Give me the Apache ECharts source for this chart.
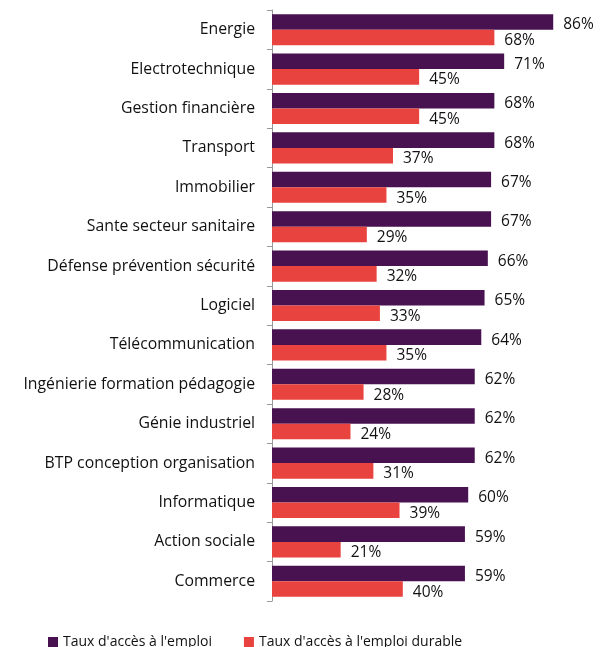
<!DOCTYPE html>
<html>
<head>
<meta charset="utf-8">
<script src="https://cdn.jsdelivr.net/npm/echarts@6/dist/echarts.min.js"></script>
<style>
  html, body { margin: 0; padding: 0; background: #fff; }
  #chart { width: 613px; height: 647px; }
</style>
</head>
<body>
<div id="chart"></div>
<script>
// secteurs
const categories = [
  'Energie', 'Electrotechnique', 'Gestion financière', 'Transport', 'Immobilier',
  'Sante secteur sanitaire', 'Défense prévention sécurité', 'Logiciel', 'Télécommunication',
  'Ingénierie formation pédagogie', 'Génie industriel', 'BTP conception organisation',
  'Informatique', 'Action sociale', 'Commerce'
]
// taux d'accès à l'emploi
const accesEmploi = [86, 71, 68, 68, 67, 67, 66, 65, 64, 62, 62, 62, 60, 59, 59]
// taux d'accès à l'emploi durable
const accesDurable = [68, 45, 45, 37, 35, 29, 32, 33, 35, 28, 24, 31, 39, 21, 40]

const seriesNames = ["Taux d'accès à l'emploi", "Taux d'accès à l'emploi durable"]
const font = 'Open Sans'

const chart = echarts.init(document.getElementById('chart'))
const labelStyle = {
  show: true,
  position: 'right',
  distance: 10,
  offset: [0, 3],
  formatter: '{c}%',
  color: '#111',
  fontSize: 15.5,
  fontFamily: font
}

chart.setOption({
  animation: false,
  grid: { left: 272, right: 14, top: 10, bottom: 46 },
  legend: {
    data: seriesNames,
    bottom: -7,
    left: 43,
    itemWidth: 10,
    itemHeight: 10,
    itemGap: 32,
    icon: 'rect',
    textStyle: { fontSize: 14, fontFamily: font, color: '#111' }
  },
  xAxis: {
    type: 'value',
    min: 0,
    max: 100,
    show: false
  },
  yAxis: {
    type: 'category',
    data: categories,
    inverse: true,
    axisLine: { show: true, lineStyle: { color: '#999' } },
    axisTick: { show: true, length: 5, lineStyle: { color: '#999' } },
    axisLabel: { margin: 17, fontSize: 15.8, fontFamily: font, color: '#111' }
  },
  series: [
    {
      name: seriesNames[0],
      type: 'bar',
      data: accesEmploi,
      barGap: '0%',
      barCategoryGap: '21%',
      itemStyle: { color: '#47124f' },
      label: labelStyle
    },
    {
      name: seriesNames[1],
      type: 'bar',
      data: accesDurable,
      itemStyle: { color: '#e8433e' },
      label: labelStyle
    }
  ]
})
</script>
</body>
</html>
